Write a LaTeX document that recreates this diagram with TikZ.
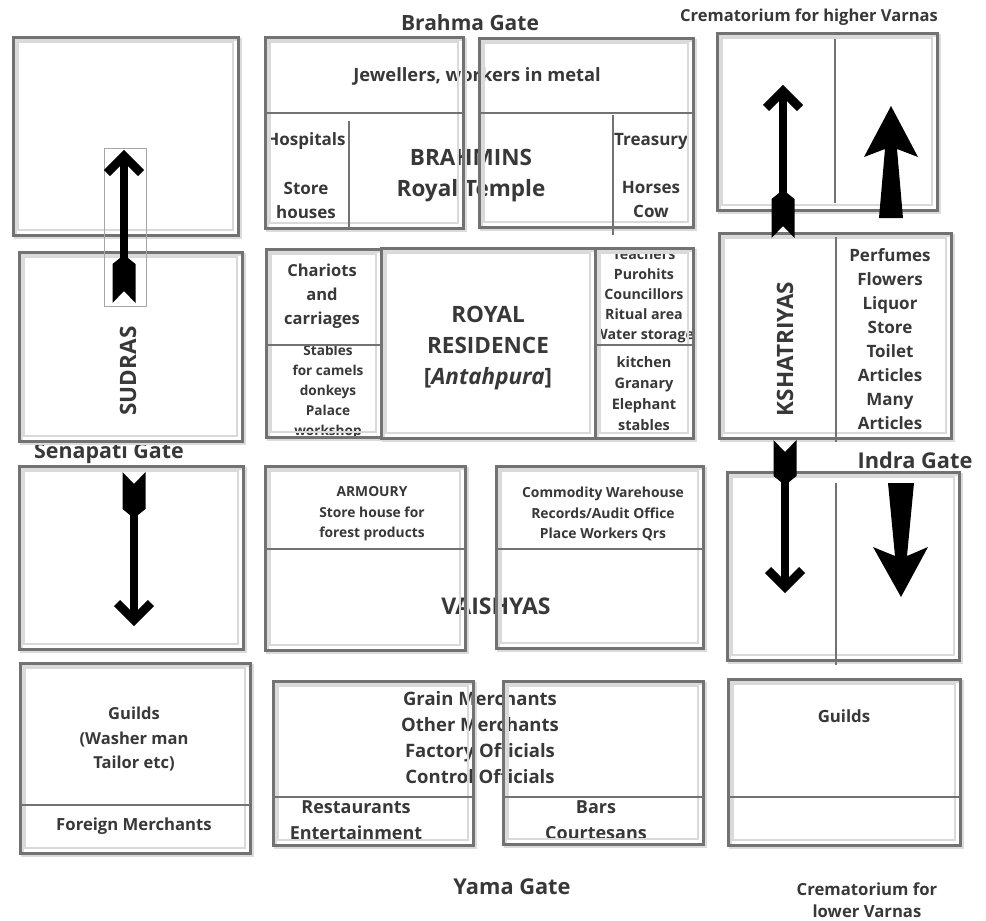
\documentclass[tikz,border=0pt]{standalone}
\usepackage{fontspec}
\setmainfont{Open Sans}
\definecolor{txt}{HTML}{383838}
\definecolor{wall}{HTML}{727272}
\newcommand{\FSz}[2]{\fontsize{#1}{#2}\selectfont\bfseries}
\newcommand{\RoomBox}[4]{%
  \draw[line width=3pt, black!14] (#1+2.5,#2+2.5) rectangle (#3+2.5,#4+2.5);
  \draw[line width=2.5pt, black!15] (#1+5,#2+5) rectangle (#3-5,#4-5);
  \draw[wall, line width=3pt] (#1,#2) rectangle (#3,#4);}
\newcommand{\ArUp}[4]{%
  \draw[line width=8.5pt] (#1,#2+6) -- (#1,#3+3);
  \draw[line width=8.5pt] (#1-17,#2+23) -- (#1,#2+6) -- (#1+17,#2+23);
  \fill (#1-11.5,#3+6) -- (#1-4,#3) -- (#1+4,#3) -- (#1+11.5,#3+6) -- (#1+11.5,#4) -- (#1,#4-12) -- (#1-11.5,#4) -- cycle;}
\newcommand{\ArDown}[4]{%
  \draw[line width=8.5pt] (#1,#2-6) -- (#1,#4-3);
  \draw[line width=8.5pt] (#1-17,#2-23) -- (#1,#2-6) -- (#1+17,#2-23);
  \fill (#1-11.5,#3) -- (#1,#3+12) -- (#1+11.5,#3) -- (#1+11.5,#4-6) -- (#1+4,#4) -- (#1-4,#4) -- (#1-11.5,#4-6) -- cycle;}
\begin{document}
\begin{tikzpicture}[x=1pt,y=-1pt,
  lbl/.style={text=txt, align=center, inner sep=0pt},
  divider/.style={wall, line width=2.8pt}]
\fill[white] (0,0) rectangle (986,921);
\useasboundingbox (0,0) rectangle (986,921);

% ---------- texts ----------
\node[lbl, font=\FSz{21}{23}] (brahma) at (470,23) {Brahma Gate};
\node[lbl, font=\FSz{16.5}{17}] (cremhi) at (809,17) {Crematorium for higher Varnas};
\node[lbl, font=\FSz{18.3}{20}] (jewel) at (477,76) {Jewellers, workers in metal};
\node[lbl, font=\FSz{17}{18}] (hosp) at (306,141) {Hospitals};
\node[lbl, font=\FSz{17}{24}] (store) at (306,200) {Store\\houses};
\node[lbl, font=\FSz{22.5}{31}] (brahmins) at (471,176) {BRAHMINS\\Royal Temple};
\node[lbl, font=\FSz{17}{18}] (treas) at (651,141) {Treasury};
\node[lbl, font=\FSz{17}{24}] (horses) at (651,200) {Horses\\Cow};
\node[lbl, font=\FSz{16.5}{24}] (chariots) at (322,296) {Chariots\\and\\carriages};
\node[lbl, font=\FSz{13.6}{19.8}] (stables) at (328,392) {Stables\\for camels\\donkeys\\Palace\\workshop};
\node[lbl, font=\FSz{22.5}{31}] (royal) at (488,348) {ROYAL\\RESIDENCE\\{[}\textit{Antahpura}{]}};
\node[lbl, font=\FSz{14.2}{20}] (teach) at (644,296) {Teachers\\Purohits\\Councillors\\Ritual area\\Water storage};
\node[lbl, font=\FSz{14.5}{21}] (kitchen) at (644,394) {kitchen\\Granary\\Elephant\\stables};
\node[lbl, font=\FSz{22.5}{24}, rotate=90] (sudras) at (128,371) {SUDRAS};
\node[lbl, font=\FSz{22.5}{24}, rotate=90] (ksha) at (785,349) {KSHATRIYAS};
\node[lbl, font=\FSz{17}{24}] (perf) at (890,339) {Perfumes\\Flowers\\Liquor\\Store\\Toilet\\Articles\\Many\\Articles};
\node[lbl, font=\FSz{21.4}{23}] (senapati) at (109,453) {Senapati Gate};
\node[lbl, font=\FSz{21.8}{23}] (indra) at (915,460) {Indra Gate};
\node[lbl, font=\FSz{13.8}{20.5}] (armoury) at (372,514) {ARMOURY\\Store house for\\forest products};
\node[lbl, font=\FSz{13.9}{20.5}] (commod) at (603,514) {Commodity Warehouse\\Records/Audit Office\\Place Workers Qrs};
\node[lbl, font=\FSz{23}{24}] (vaish) at (496,606) {VAISHYAS};
\node[lbl, font=\FSz{16.5}{24.5}] (guildsl) at (134,739.5) {Guilds\\(Washer man\\Tailor etc)};
\node[lbl, font=\FSz{16.7}{19}] (foreign) at (134,826) {Foreign Merchants};
\node[lbl, font=\FSz{18.5}{26}] (grain) at (480,738) {Grain Merchants\\Other Merchants\\Factory Officials\\Control Officials};
\node[lbl, font=\FSz{18}{26}] (rest) at (356,820) {Restaurants\\Entertainment};
\node[lbl, font=\FSz{18}{26}] (bars) at (596,820) {Bars\\Courtesans};
\node[lbl, font=\FSz{16.8}{19}] (guildsr) at (844,716) {Guilds};
\node[lbl, font=\FSz{21.8}{23}] (yama) at (512,887) {Yama Gate};
\node[lbl, font=\FSz{16.7}{22}] (cremlo) at (867,900) {Crematorium for\\lower Varnas};

% ---------- rooms ----------
\RoomBox{13}{37}{238}{235}
\RoomBox{265}{37}{463}{228}
\draw[divider] (265,113) -- (463,113);
\draw[divider] (349,121) -- (349,229);
\RoomBox{479}{38}{693}{227}
\draw[divider] (479,113) -- (693,113);
\draw[divider] (613,115) -- (613,235);
\RoomBox{717}{33}{937}{210}
\draw[divider] (835,39) -- (835,203);

\RoomBox{19}{252}{242}{441}
\RoomBox{266}{249}{381}{437}
\draw[divider] (266,345) -- (381,345);
\RoomBox{381}{248}{595}{438}
\RoomBox{595}{248}{693}{438}
\draw[divider] (595,345) -- (693,345);
\RoomBox{719}{233}{951}{438}
\draw[divider] (836,237) -- (836,442);

\RoomBox{19}{466}{243}{649}
\RoomBox{265}{466}{465}{650}
\draw[divider] (265,549) -- (465,549);
\RoomBox{496}{466}{703}{648}
\draw[divider] (496,549) -- (703,549);
\RoomBox{727}{472}{959}{660}
\draw[divider] (836,483) -- (836,665);

\RoomBox{20}{663}{250}{853}
\draw[divider] (20,805) -- (250,805);
\RoomBox{273}{681}{473}{845}
\draw[divider] (273,797) -- (473,797);
\RoomBox{503}{681}{703}{844}
\draw[divider] (503,797) -- (703,797);
\RoomBox{728}{679}{960}{845}
\draw[divider] (728,797) -- (960,797);

% ---------- arrows ----------
\draw[black!35, line width=0.7pt] (104,148) rectangle (146,306);
\ArUp{124}{150}{258}{303}
\ArUp{783}{85}{193}{238}
\ArDown{134}{626}{472}{515}
\ArDown{785}{593}{440}{482}
\fill (891,106) -- (918,157) -- (897,149) -- (903,218) -- (879,218) -- (885,149) -- (864,157) -- cycle;
\fill (888,483) -- (914,483) -- (907,556) -- (928,547) -- (901,597) -- (873,547) -- (895,556) -- cycle;
\end{tikzpicture}
\end{document}
